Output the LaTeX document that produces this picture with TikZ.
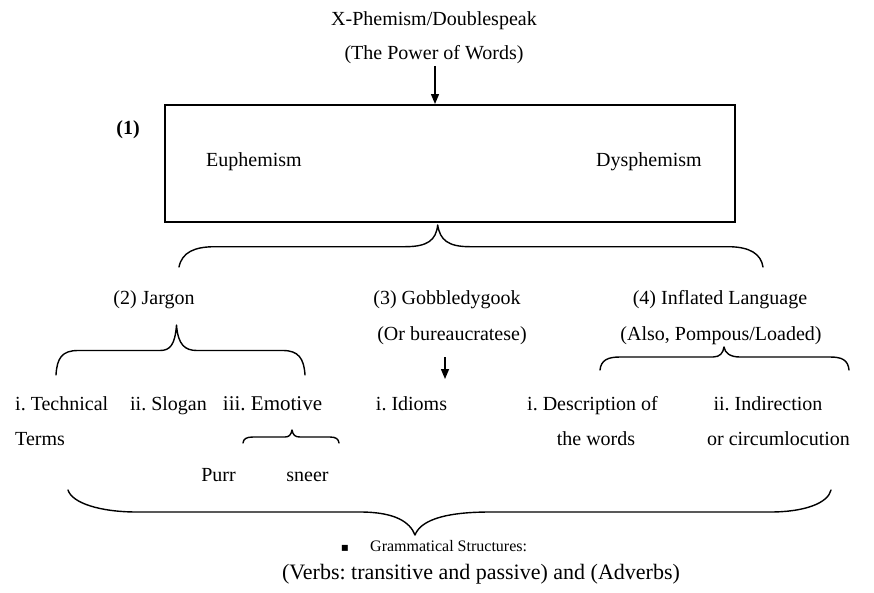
\documentclass[tikz,border=0pt]{standalone}
\usepackage{fontspec}
\setmainfont{Liberation Serif}
\newfontfamily\symfont{DejaVu Sans}
\usetikzlibrary{arrows.meta}
\frenchspacing
\begin{document}
\begin{tikzpicture}[x=1pt,y=-1pt,
  lbl/.style={inner sep=0pt, anchor=mid, font=\fontsize{20}{24}\selectfont\frenchspacing},
  brace/.style={line width=1.4pt, line join=round, line cap=round},
  arr/.style={line width=1.4pt, -{Triangle[length=10pt,width=8pt]}},
  boxst/.style={draw, line width=2pt, minimum width=570pt, minimum height=117pt, inner sep=0pt}]
\useasboundingbox (0,0) rectangle (874,592);
% title
\node[lbl] (title) at (434,23) {X-Phemism/Doublespeak};
\node[lbl] (sub) at (434,57) {(The Power of Words)};
% box
\node[boxst] (box) at (450,163.5) {};
\node[lbl, font=\fontsize{20}{24}\selectfont\bfseries] (one) at (128,132) {(1)};
\node[lbl] (euph) at (254,164) {Euphemism};
\node[lbl] (dysph) at (649,164) {Dysphemism};
\draw[arr] ([yshift=-2pt]sub.south -| 435,0) -- (435,0 |- box.north);
% top brace
\draw[brace] (179,267) .. controls (182,252) and (195,246.7) .. (215,246.7) -- (405,246.7) .. controls (428,246.7) and (436,240) .. (437.7,225) .. controls (440,240) and (448,246.7) .. (470,246.7) -- (728,246.7) .. controls (750,246.7) and (761,254) .. (763,267);
% level 2
\node[lbl] (jargon) at (154,302) {(2) Jargon};
\node[lbl] (gob) at (447,302) {(3) Gobbledygook};
\node[lbl] (infl) at (720,302) {(4) Inflated Language};
\node[lbl] (gob2) at (452,338) {(Or bureaucratese)};
\node[lbl] (infl2) at (721,338) {(Also, Pompous/Loaded)};
% jargon brace
\draw[brace] (56,375) .. controls (57,358) and (62,350.5) .. (78,350.5) -- (160,350.5) .. controls (170,350.5) and (175,345) .. (176.5,325) .. controls (178,345) and (185,350.5) .. (197,350.5) -- (283,350.5) .. controls (298,350.5) and (304,358) .. (305,375);
% inflated brace
\draw[brace] (600,370) .. controls (601,360) and (608,357) .. (620,357) -- (713,357) .. controls (720,357) and (723,353) .. (724,347) .. controls (725,353) and (730,357) .. (740,357) -- (830,357) .. controls (842,357) and (848,360) .. (849,370);
% gobbledygook arrow
\coordinate (a2s) at (445,357);
\coordinate (a2e) at (445,379);
\draw[arr] (a2s) -- (a2e);
% level 3
\node[lbl, anchor=mid west] (tech) at (15,408) {i. Technical};
\node[lbl, anchor=mid west] (terms) at (15,443) {Terms};
\node[lbl] (slogan) at (168.5,408) {ii. Slogan};
\node[lbl, font=\fontsize{21}{24}\selectfont] (emotive) at (272.5,408) {iii. Emotive};
\node[lbl] (idioms) at (411.5,408) {i. Idioms};
\node[lbl] (desc) at (592.5,408) {i. Description of};
\node[lbl] (desc2) at (596,443) {the words};
\node[lbl] (indir) at (768,408) {ii. Indirection};
\node[lbl] (indir2) at (778.5,443) {or circumlocution};
% emotive brace
\draw[brace] (243,443) .. controls (243.5,439) and (246,437) .. (253,437) -- (285,437) .. controls (289,437) and (291,435) .. (292,430) .. controls (293,435) and (295,437) .. (300,437) -- (330,437) .. controls (336,437) and (338.5,439) .. (339,443);
\node[lbl] (purr) at (218.5,479) {Purr};
\node[lbl] (sneer) at (307.5,479) {sneer};
% bottom brace
\draw[brace] (68,490) .. controls (72,503) and (100,512) .. (137,512) -- (360,512) .. controls (395,512) and (410,522) .. (415,535) .. controls (420,522) and (440,512) .. (490,512) -- (770,512) .. controls (805,512) and (828,503) .. (831,490);
% bottom text
\node[lbl, font=\symfont\fontsize{12}{14}\selectfont] (bul) at (345,549) {▪};
\node[lbl, anchor=mid west, font=\fontsize{16}{19}\selectfont] (gram) at (370,549) {Grammatical Structures:};
\node[lbl, font=\fontsize{22}{26}\selectfont] (verbs) at (481,577) {(Verbs: transitive and passive) and (Adverbs)};
\end{tikzpicture}
\end{document}
